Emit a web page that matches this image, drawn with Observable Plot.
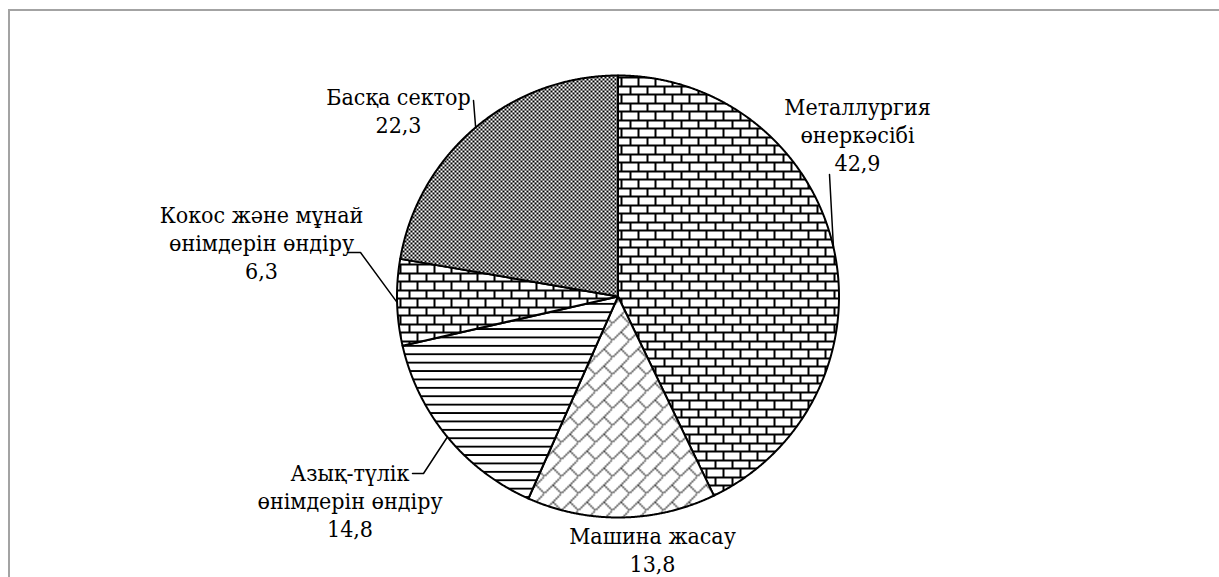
<!DOCTYPE html>
<html>
<head>
<meta charset="utf-8">
<script src="https://cdn.jsdelivr.net/npm/d3@7"></script>
<script src="https://cdn.jsdelivr.net/npm/@observablehq/plot@0.6"></script>
<style>
html, body { margin: 0; padding: 0; background: #fff; overflow: hidden; width: 1219px; height: 577px; }
#chart { position: absolute; left: 0; top: 0; }
#frame { position: absolute; left: 8px; top: 9px; width: 1400px; height: 800px;
  border-top: 2px solid #a3a3a3; border-left: 2px solid #a3a3a3; z-index: 2; pointer-events: none; }
</style>
</head>
<body>
<svg width="0" height="0" style="position:absolute">
  <defs>
    <pattern id="pat-brick" patternUnits="userSpaceOnUse" width="17" height="17">
      <rect width="17" height="17" fill="#fff"/>
      <g fill="#000" shape-rendering="crispEdges">
        <rect x="0" y="0" width="17" height="2"/>
        <rect x="0" y="8" width="17" height="2"/>
        <rect x="0" y="0" width="2" height="9"/>
        <rect x="8" y="8" width="2" height="9"/>
      </g>
    </pattern>
    <pattern id="pat-hlines" patternUnits="userSpaceOnUse" width="16" height="8.4">
      <rect width="16" height="8.4" fill="#fff"/>
      <rect x="0" y="0" width="16" height="2" fill="#000" shape-rendering="crispEdges"/>
    </pattern>
    <pattern id="pat-diagbrick" patternUnits="userSpaceOnUse" width="17" height="17">
      <rect width="17" height="17" fill="#fff"/>
      <g stroke="#1a1a1a" stroke-width="1.5" stroke-dasharray="1.6 0.9">
        <line x1="-1" y1="18" x2="18" y2="-1"/>
        <line x1="8.5" y1="8.5" x2="17" y2="17"/>
      </g>
    </pattern>
    <pattern id="pat-check" patternUnits="userSpaceOnUse" width="4" height="4">
      <rect width="4" height="4" fill="#fff"/>
      <g fill="#000" shape-rendering="crispEdges">
        <rect x="0" y="0" width="2" height="2"/>
        <rect x="2" y="2" width="2" height="2"/>
      </g>
    </pattern>
  </defs>
</svg>
<div id="chart"></div>
<div id="frame"></div>
<script>
// ---- data ----
const sectors = [
  "Металлургия өнеркәсібі",
  "Машина жасау",
  "Азық-түлік өнімдерін өндіру",
  "Кокос және мұнай өнімдерін өндіру",
  "Басқа сектор"
];
const labelLines = [
  ["Металлургия", "өнеркәсібі"],
  ["Машина жасау"],
  ["Азық-түлік", "өнімдерін өндіру"],
  ["Кокос және мұнай", "өнімдерін өндіру"],
  ["Басқа сектор"]
];
const values = [42.9, 13.8, 14.8, 6.3, 22.3];
const valueLabels = ["42,9", "13,8", "14,8", "6,3", "22,3"];

// ---- layout (pixel offsets from pie centre, y up) ----
const W = 1219, H = 577;
const CX = 617.5, CY = 296, R = 221;
const patterns = ["url(#pat-brick)", "url(#pat-diagbrick)", "url(#pat-hlines)", "url(#pat-brick)", "url(#pat-check)"];
const labelPos = [[239.5, 162], [34.5, -253], [-268, -204], [-356.5, 54], [-219.5, 186]];
const leaderStart = [[[211.5, 122]], null, [[-205.5, -177], [-194.5, -177]], [[-270.5, 44], [-257.5, 44]], [[-144.5, 196]]];

const arcs = d3.pie().sort(null).value(d => d)(values);

const marks = [];
arcs.forEach((a, i) => {
  const pts = [{x: 0, y: 0}];
  const n = Math.max(4, Math.ceil((a.endAngle - a.startAngle) / 0.004));
  for (let k = 0; k <= n; k++) {
    const t = a.startAngle + (a.endAngle - a.startAngle) * k / n;
    pts.push({x: R * Math.sin(t), y: R * Math.cos(t)});
  }
  marks.push(Plot.line(pts, {
    x: "x", y: "y", curve: "linear-closed",
    fill: patterns[i], stroke: "#000", strokeWidth: 2, strokeLinejoin: "round"
  }));
});

// leader lines: from label anchor to the slice's mid-angle on the rim
const leaders = [];
arcs.forEach((a, i) => {
  if (!leaderStart[i]) return;
  const mid = (a.startAngle + a.endAngle) / 2;
  leaderStart[i].forEach(p => leaders.push({id: i, x: p[0], y: p[1]}));
  leaders.push({id: i, x: R * Math.sin(mid), y: R * Math.cos(mid)});
});
marks.push(Plot.line(leaders, {x: "x", y: "y", z: "id", stroke: "#000", strokeWidth: 1.5}));

const labels = arcs.map((a, i) => ({
  x: labelPos[i][0], y: labelPos[i][1],
  text: [...labelLines[i], valueLabels[i]].join("\n")
}));
marks.push(Plot.text(labels, {
  x: "x", y: "y", text: "text",
  fontSize: 23, lineHeight: 28 / 23, fill: "#000",
  fontFamily: "DejaVu Serif Condensed",
  textAnchor: "middle", lineAnchor: "middle"
}));

const chart = Plot.plot({
  width: W, height: H,
  marginTop: 0, marginRight: 0, marginBottom: 0, marginLeft: 0,
  x: {domain: [-CX, W - CX], axis: null},
  y: {domain: [-(H - CY), CY], axis: null},
  style: {background: "transparent", color: "#000"},
  marks
});
document.getElementById("chart").appendChild(chart);
</script>
</body>
</html>
